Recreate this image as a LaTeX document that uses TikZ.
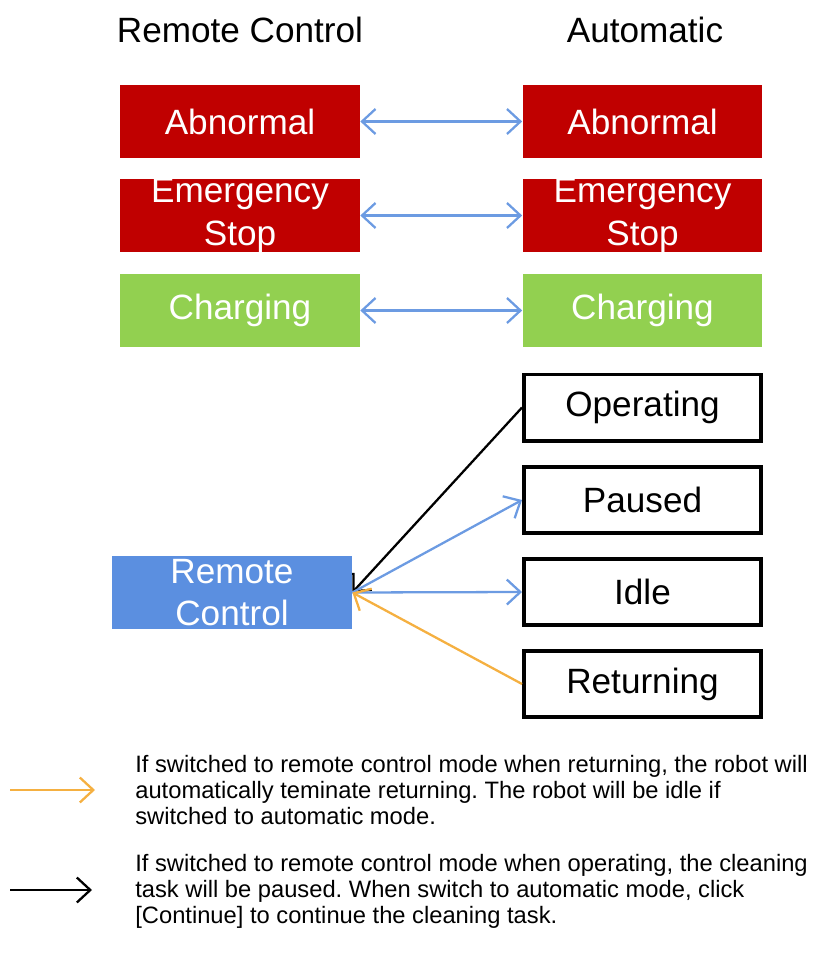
\documentclass[tikz,border=0pt]{standalone}
\usepackage{fontspec}
\setmainfont{Liberation Sans}
\usetikzlibrary{arrows.meta}
\frenchspacing
\definecolor{alarmred}{HTML}{C00000}
\definecolor{chargegreen}{HTML}{92D050}
\definecolor{remoteblue}{HTML}{5B8FE0}
\definecolor{linkblue}{HTML}{6C9BE2}
\definecolor{returnorange}{HTML}{F5B041}
\tikzset{
  state/.style={minimum width=4.8cm, minimum height=1.48cm, inner sep=0pt, align=center, font=\fontsize{20}{24}\selectfont},
  filled/.style={state, fill=#1, text=white},
  framed/.style={state, draw=black, line width=2pt, minimum width=4.75cm, minimum height=1.33cm},
  title/.style={font=\fontsize{20}{22}\selectfont},
  note/.style={align=left, anchor=west, inner sep=0pt, font=\fontsize{13.5}{14.8}\selectfont},
  link/.style={{Straight Barb[length=2.7mm, width=5mm]}-{Straight Barb[length=2.7mm, width=5mm]}, line width=1.3pt, color=linkblue},
  toauto/.style={-{Straight Barb[length=2.7mm, width=5mm]}, line width=1.3pt, color=linkblue},
  stop/.style={-{Straight Barb[length=2.7mm, width=5mm]}, line width=1.3pt, color=black},
  back/.style={-{Straight Barb[length=2.7mm, width=5mm]}, line width=1.3pt, color=returnorange}
}
\begin{document}
\begin{tikzpicture}[x=0.02cm, y=-0.02cm]
\useasboundingbox (0,0) rectangle (818,953);

\node[title] (rcTitle) at (240,30) {Remote Control};
\node[title] (autoTitle) at (645,30) {Automatic};

\node[filled=alarmred] (rcAbn) at (240,121.5) {Abnormal};
\node[filled=alarmred] (rcStop) at (240,215.5) {Emergency\\Stop};
\node[filled=chargegreen] (rcCharge) at (240,310.5) {Charging};
\node[filled=alarmred] (autoAbn) at (642.5,121.5) {Abnormal};
\node[filled=alarmred] (autoStop) at (642.5,215.5) {Emergency\\Stop};
\node[filled=chargegreen] (autoCharge) at (642.5,310.5) {Charging};

\draw[link] (rcAbn) -- (autoAbn);
\draw[link] (rcStop) -- (autoStop);
\draw[link] (rcCharge) -- (autoCharge);

\node[framed] (operating) at (642.5,407.5) {Operating};
\node[framed] (paused) at (642.5,500) {Paused};
\node[framed] (idle) at (642.5,592) {Idle};
\node[framed] (returning) at (642.5,684) {Returning};
\node[filled=remoteblue] (remote) at (232,592.5) {Remote\\Control};

\draw[stop] (operating.west) -- (remote.east);
\draw[toauto] (remote.east) -- (paused.west);
\draw[toauto] (remote.east) -- (idle.west);
\draw[back] (returning.west) -- (remote.east);

\coordinate (keyBackA) at (10,790);
\coordinate (keyBackB) at (95,790);
\draw[back] (keyBackA) -- (keyBackB);
\node[note] (noteBack) at (135,790) {If switched to remote control mode when returning, the robot will\\automatically teminate returning. The robot will be idle if\\switched to automatic mode.};

\coordinate (keyStopA) at (10,890);
\coordinate (keyStopB) at (92,890);
\draw[stop] (keyStopA) -- (keyStopB);
\node[note] (noteStop) at (135,891) {If switched to remote control mode when operating, the cleaning\\task will be paused. When switch to automatic mode, click\\{[Continue]} to continue the cleaning task.};
\end{tikzpicture}
\end{document}
